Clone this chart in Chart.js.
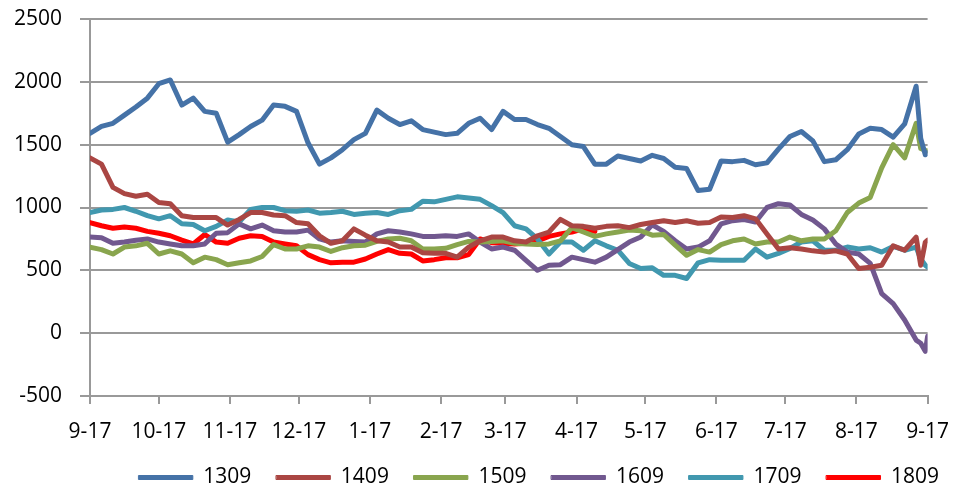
<!DOCTYPE html>
<html>
<head>
<meta charset="utf-8">
<script src="https://cdn.jsdelivr.net/npm/chart.js@4/dist/chart.umd.min.js"></script>
<style>
    html, body { margin: 0; padding: 0; background: #fff; }
</style>
</head>
<body>
<canvas id="spreadChart" width="964" height="491"></canvas>
<script>
// Day offsets from the first 9-17 date
const days = [
    0, 5, 10, 15, 20, 25, 30, 35, 40, 45,
    50, 55, 60, 65, 70, 75, 80, 85, 90, 95,
    100, 105, 110, 115, 120, 125, 130, 135, 140, 145,
    150, 155, 160, 165, 170, 175, 180, 185, 190, 195,
    200, 205, 210, 215, 220, 225, 230, 235, 240, 245,
    250, 255, 260, 265, 270, 275, 280, 285, 290, 295,
    300, 305, 310, 315, 320, 325, 330, 335, 340, 345,
    350, 355, 360, 362, 364, 365
];

// Month boundaries on the x axis
const monthDays = [0, 30, 61, 91, 122, 153, 181, 212, 242, 273, 303, 334, 365];
const monthLabels = ['9-17', '10-17', '11-17', '12-17', '1-17', '2-17', '3-17',
    '4-17', '5-17', '6-17', '7-17', '8-17', '9-17'];

const yTicks = [-500, 0, 500, 1000, 1500, 2000, 2500];

const seriesNames = ['1309', '1409', '1509', '1609', '1709', '1809'];
const seriesColors = ['#4572A7', '#AA4643', '#89A54E', '#71588F', '#4198AF', '#FF0000'];

const s1309 = [
    1590, 1645, 1670, 1735, 1800, 1870, 1985, 2015, 1815, 1870,
    1765, 1750, 1520, 1580, 1645, 1695, 1815, 1805, 1765, 1515,
    1345, 1395, 1460, 1540, 1590, 1775, 1710, 1660, 1690, 1620,
    1600, 1580, 1590, 1670, 1710, 1620, 1765, 1700, 1700, 1660,
    1630, 1565, 1500, 1485, 1345, 1345, 1410, 1390, 1370, 1415,
    1390, 1320, 1310, 1135, 1145, 1370, 1365, 1375, 1340, 1355,
    1465, 1565, 1605, 1530, 1365, 1380, 1460, 1585, 1630, 1620,
    1560, 1665, 1965, 1550, 1420, 1435
];
const s1409 = [
    1395, 1345, 1160, 1110, 1090, 1105, 1040, 1030, 935, 920,
    920, 920, 860, 905, 960, 960, 940, 935, 880, 870,
    775, 715, 735, 830, 780, 735, 725, 685, 685, 640,
    635, 635, 605, 685, 735, 765, 765, 735, 725, 775,
    805, 905, 855, 850, 835, 850, 855, 840, 865, 880,
    895, 880, 895, 875, 880, 925, 920, 935, 910, 790,
    670, 680, 670, 655, 645, 655, 630, 515, 525, 540,
    695, 660, 765, 540, 725, 740
];
const s1509 = [
    685, 665, 630, 685, 695, 715, 630, 655, 630, 560,
    605, 585, 545, 560, 575, 610, 705, 670, 670, 695,
    685, 650, 680, 695, 700, 730, 750, 755, 735, 670,
    670, 675, 705, 730, 725, 730, 735, 715, 710, 705,
    710, 735, 840, 805, 770, 790, 805, 820, 815, 780,
    785, 700, 620, 665, 645, 705, 735, 750, 710, 725,
    725, 765, 735, 750, 750, 815, 960, 1035, 1080, 1315,
    1500, 1395, 1670, 1470, 1455, 1450
];
const s1609 = [
    765, 760, 715, 725, 740, 750, 725, 710, 695, 695,
    710, 795, 800, 870, 830, 860, 815, 805, 805, 820,
    750, 725, 735, 730, 725, 790, 815, 805, 790, 770,
    770, 775, 770, 790, 725, 670, 685, 660, 580, 500,
    540, 545, 605, 585, 565, 605, 665, 725, 765, 862,
    810, 735, 670, 685, 735, 870, 895, 905, 885, 1000,
    1030, 1020, 945, 900, 830, 710, 645, 630, 555, 315,
    235, 105, -55, -80, -145, -25
];
const s1709 = [
    960, 980, 985, 1000, 970, 935, 910, 935, 870, 865,
    815, 850, 900, 885, 985, 1000, 1000, 975, 970, 980,
    955, 960, 970, 945, 955, 960, 945, 975, 985, 1050,
    1045, 1065, 1085, 1075, 1065, 1015, 960, 855, 830, 750,
    630, 725, 725, 660, 735, 695, 660, 555, 515, 520,
    460, 460, 435, 560, 585, 580, 580, 580, 670, 605,
    635, 675, 725, 735, 660, 660, 685, 670, 680, 645,
    690, 660, 685, 590, 540, 525
];
// 1809 only runs up to the 4-17 period
const s1809 = [
    880, 855, 835, 845, 835, 810, 795, 775, 740, 710,
    785, 725, 715, 755, 775, 770, 725, 710, 695, 625,
    585, 560, 565, 565, 590, 630, 665, 635, 630, 575,
    585, 600, 600, 625, 750, 720, 715, 710, 715, 735,
    770, 790, 805, 830, 810
];

const seriesValues = [s1309, s1409, s1509, s1609, s1709, s1809];

const fontFamily = "'Open Sans', 'Liberation Sans', sans-serif";
const gridColor = '#999999';

function toPoints(values) {
    return values.map((v, i) => ({ x: days[i], y: v }));
}

// Keep the legend row low, just under the month labels
const legendHeightPlugin = {
    id: 'legendHeight',
    afterInit(chart) {
        const legend = chart.legend;
        const fit = legend.fit;
        legend.fit = function() {
            fit.call(this);
            this.height = 49;
        };
    }
};

document.addEventListener('DOMContentLoaded', function() {
    const ctx = document.getElementById('spreadChart').getContext('2d');

    new Chart(ctx, {
        type: 'line',
        data: {
            datasets: seriesNames.map((name, i) => ({
                label: name,
                data: toPoints(seriesValues[i]),
                borderColor: seriesColors[i],
                backgroundColor: seriesColors[i],
                borderWidth: 5,
                pointRadius: 0,
                tension: 0,
                fill: false,
                borderJoinStyle: 'round',
                borderCapStyle: 'round'
            }))
        },
        plugins: [legendHeightPlugin],
        options: {
            responsive: false,
            animation: false,
            layout: {
                padding: { top: 19, left: 0, right: 0, bottom: 0 }
            },
            plugins: {
                tooltip: { enabled: false },
                legend: {
                    position: 'bottom',
                    align: 'end',
                    labels: {
                        boxWidth: 54,
                        boxHeight: 4,
                        padding: 25,
                        color: '#000',
                        font: { family: fontFamily, size: 21 },
                        generateLabels(chart) {
                            const items = Chart.defaults.plugins.legend.labels.generateLabels(chart);
                            items.forEach(item => { item.lineWidth = 1; });
                            return items;
                        }
                    }
                }
            },
            scales: {
                x: {
                    type: 'linear',
                    min: 0,
                    max: 365,
                    afterBuildTicks(scale) {
                        scale.ticks = monthDays.map(v => ({ value: v }));
                    },
                    afterFit(scale) {
                        scale.height = 46;
                    },
                    ticks: {
                        autoSkip: false,
                        maxRotation: 0,
                        padding: 15,
                        color: '#000',
                        font: { family: fontFamily, size: 21 },
                        callback: (value, index) => monthLabels[index]
                    },
                    grid: {
                        drawOnChartArea: false,
                        drawTicks: true,
                        tickLength: 8,
                        color: gridColor,
                        lineWidth: 2
                    },
                    border: { color: gridColor, width: 2 }
                },
                y: {
                    min: yTicks[0],
                    max: yTicks[yTicks.length - 1],
                    afterBuildTicks(scale) {
                        scale.ticks = yTicks.map(v => ({ value: v }));
                    },
                    afterFit(scale) {
                        scale.width = 90;
                        scale.paddingTop = 0;
                    },
                    ticks: {
                        padding: 18,
                        color: '#000',
                        font: { family: fontFamily, size: 21 },
                        callback: value => String(value)
                    },
                    grid: {
                        color: gridColor,
                        lineWidth: 2,
                        tickLength: 10
                    },
                    border: { color: gridColor, width: 2 }
                },
                // blank strip on the right so the plot stops short of the edge
                yRight: {
                    type: 'linear',
                    position: 'right',
                    display: true,
                    grid: { display: false },
                    ticks: { display: false },
                    border: { display: false },
                    afterFit(scale) {
                        scale.width = 31;
                        scale.paddingTop = 0;
                    }
                }
            }
        }
    });
});
</script>
</body>
</html>
